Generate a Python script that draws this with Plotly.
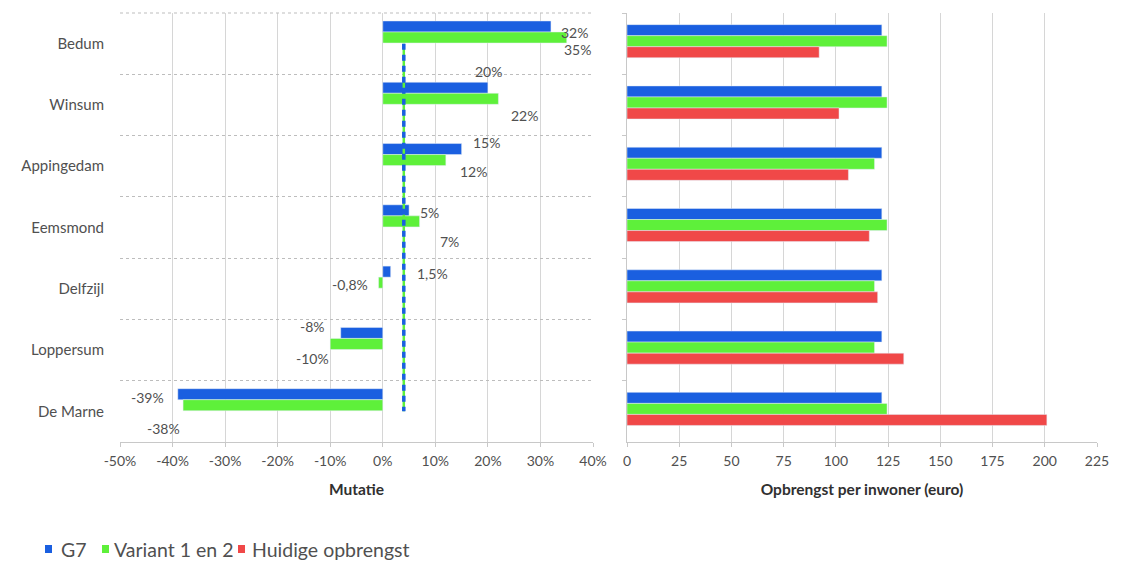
import plotly.graph_objects as go

# ---- data ----
categories = ["Bedum", "Winsum", "Appingedam", "Eemsmond", "Delfzijl", "Loppersum", "De Marne"]

mutatie_g7 = [32, 20, 15, 5, 1.5, -8, -39]
mutatie_variant = [35, 22, 12, 7, -0.8, -10, -38]
label_g7 = ["32%", "20%", "15%", "5%", "1,5%", "-8%", "-39%"]
label_variant = ["35%", "22%", "12%", "7%", "-0,8%", "-10%", "-38%"]
gemiddelde = [4, 4, 4, 4, 4, 4, 4]

opbrengst_g7 = [122, 122, 122, 122, 122, 122, 122]
opbrengst_variant = [124.5, 124.5, 118.5, 124.5, 118.5, 118.5, 124.5]
opbrengst_huidig = [92, 101.5, 106, 116, 120, 132.5, 201]

series_names = ["G7", "Variant 1 en 2", "Huidige opbrengst"]

mut_ticks = [-50, -40, -30, -20, -10, 0, 10, 20, 30, 40]
mut_ticktext = ["-50%", "-40%", "-30%", "-20%", "-10%", "0%", "10%", "20%", "30%", "40%"]
opb_ticks = [0, 25, 50, 75, 100, 125, 150, 175, 200, 225]

# ---- styling ----
BLUE = "#1a5fe0"
GREEN = "#5ef03a"
RED = "#f04848"
COLORS = [BLUE, GREEN, RED]
TXT = "#505050"
FONT = "Lato"
W = 0.18
FIG_W, FIG_H = 1121, 564
TOP, BOTTOM = 13, 442

# label placement (pixel shifts from bar end / band centre)
shift_g7 = [(24, 11), (1, 33), (25, 24), (20, 15), (42, 15), (-28, 24), (-30, 14)]
shift_var = [(11, -6), (26, -11), (28, -5), (30, -14), (-29, 4), (-18, -8), (-20, -17)]

# legend placement in pixels: (square left, text left)
legend_pos = [(45, 59), (102, 112), (238, 250)]
legend_y = 549


def px_x(p):
    return p / FIG_W


def px_y(p):
    return (BOTTOM - p) / (BOTTOM - TOP)


fig = go.Figure()

# left panel
fig.add_trace(go.Bar(x=mutatie_g7, y=categories, orientation="h", name=series_names[0],
                     marker_color=BLUE, width=W, offset=-0.37, xaxis="x", yaxis="y"))
fig.add_trace(go.Bar(x=mutatie_variant, y=categories, orientation="h", name=series_names[1],
                     marker_color=GREEN, width=W, offset=-0.19, xaxis="x", yaxis="y"))
fig.add_trace(go.Scatter(x=gemiddelde, y=categories, mode="lines", xaxis="x", yaxis="y",
                         line=dict(color=GREEN, width=2.5), hoverinfo="skip"))
fig.add_trace(go.Scatter(x=gemiddelde, y=categories, mode="lines", xaxis="x", yaxis="y",
                         line=dict(color=BLUE, width=3.5, dash="6px,5px"), hoverinfo="skip"))

# right panel
fig.add_trace(go.Bar(x=opbrengst_g7, y=categories, orientation="h", name=series_names[0],
                     marker_color=BLUE, width=W, offset=-0.31, xaxis="x2", yaxis="y2"))
fig.add_trace(go.Bar(x=opbrengst_variant, y=categories, orientation="h", name=series_names[1],
                     marker_color=GREEN, width=W, offset=-0.13, xaxis="x2", yaxis="y2"))
fig.add_trace(go.Bar(x=opbrengst_huidig, y=categories, orientation="h", name=series_names[2],
                     marker_color=RED, width=W, offset=0.05, xaxis="x2", yaxis="y2"))

annotations = []
for i, c in enumerate(categories):
    dx, dy = shift_g7[i]
    annotations.append(dict(x=mutatie_g7[i], y=c, xref="x", yref="y", text=label_g7[i],
                            showarrow=False, xshift=dx, yshift=dy,
                            font=dict(family=FONT, size=14, color=TXT)))
    dx, dy = shift_var[i]
    annotations.append(dict(x=mutatie_variant[i], y=c, xref="x", yref="y", text=label_variant[i],
                            showarrow=False, xshift=dx, yshift=dy,
                            font=dict(family=FONT, size=14, color=TXT)))

shapes = [
    # dotted top border of the left plot area
    dict(type="line", xref="x domain", yref="y domain", x0=0, x1=1, y0=1, y1=1,
         line=dict(color="#bdbdbd", width=1, dash="dot")),
]
# custom legend
for (sq, tx), name, col in zip(legend_pos, series_names, COLORS):
    shapes.append(dict(type="rect", xref="paper", yref="paper",
                       x0=px_x(sq), x1=px_x(sq + 7), y0=px_y(legend_y + 4), y1=px_y(legend_y - 4),
                       fillcolor=col, line=dict(width=0)))
    annotations.append(dict(x=px_x(tx), y=px_y(legend_y), xref="paper", yref="paper",
                            xanchor="left", yanchor="middle", text=name, showarrow=False,
                            font=dict(family=FONT, size=19.5, color=TXT)))

fig.update_layout(
    width=FIG_W, height=FIG_H,
    margin=dict(l=0, r=0, t=TOP, b=FIG_H - BOTTOM, autoexpand=False),
    paper_bgcolor="white", plot_bgcolor="white",
    font=dict(family=FONT, size=12, color=TXT),
    barmode="overlay",
    showlegend=False,
    annotations=annotations,
    shapes=shapes,
    xaxis=dict(domain=[120 / FIG_W, 593 / FIG_W], range=[-50, 40], tickvals=mut_ticks,
               ticktext=mut_ticktext, showgrid=True, gridcolor="#d6d6d6", gridwidth=1,
               zeroline=False, showline=True, linecolor="#c8c8c8", ticks="outside",
               ticklen=4, tickcolor="#c8c8c8", ticklabelstandoff=2,
               tickfont=dict(family=FONT, size=14, color=TXT),
               title=dict(text="<b>Mutatie</b>", standoff=16,
                          font=dict(family=FONT, size=15.5, color="#303030"))),
    yaxis=dict(domain=[0, 1], type="category", categoryorder="array", categoryarray=categories,
               range=[6.5, -0.5], tickson="boundaries", showgrid=True, gridcolor="#bdbdbd",
               griddash="dot", gridwidth=1, ticks="", showline=False, zeroline=False,
               ticklabelstandoff=15,
               tickfont=dict(family=FONT, size=15, color=TXT)),
    xaxis2=dict(domain=[627 / FIG_W, 1097 / FIG_W], range=[0, 225], tickvals=opb_ticks,
                showgrid=True, gridcolor="#d6d6d6", gridwidth=1, zeroline=False,
                showline=True, linecolor="#c8c8c8", ticks="outside", ticklen=4,
                tickcolor="#c8c8c8", ticklabelstandoff=2, anchor="y2",
                tickfont=dict(family=FONT, size=14, color=TXT),
                title=dict(text="<b>Opbrengst per inwoner (euro)</b>", standoff=16,
                           font=dict(family=FONT, size=15.5, color="#303030"))),
    yaxis2=dict(domain=[0, 1], type="category", categoryorder="array", categoryarray=categories,
                range=[6.5, -0.5], tickson="boundaries", showgrid=False, anchor="x2",
                showticklabels=False, ticks="outside", ticklen=4, tickcolor="#c8c8c8",
                showline=True, linecolor="#c8c8c8", zeroline=False),
)

fig.write_html("out.html")
